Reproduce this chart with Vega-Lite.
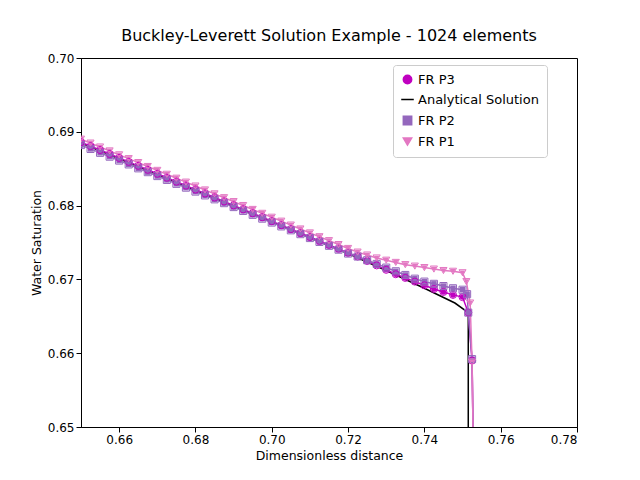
{
"$schema":"https://vega.github.io/schema/vega-lite/v6.json",
"width":496,"height":369,
"padding":{"left":30,"top":28,"right":64,"bottom":10},
"title":{"text":"Buckley-Leverett Solution Example - 1024 elements","fontSize":16,"font":"DejaVu Sans","fontWeight":"normal","offset":8},
"config":{"font":"DejaVu Sans","view":{"stroke":"black"},"axis":{"grid":false,"labelFontSize":12,"titleFontSize":12.5,"titleFontWeight":"normal","domainColor":"black","tickColor":"black","labelColor":"black"}},
"datasets":{
"fr":[
{"x":0.65,"FR P3":0.6886,"FR P2":0.6882,"FR P1":0.6890},
{"x":0.6525,"FR P3":0.68806,"FR P2":0.68768,"FR P1":0.68847},
{"x":0.655,"FR P3":0.68753,"FR P2":0.68715,"FR P1":0.68794},
{"x":0.6575,"FR P3":0.68699,"FR P2":0.68663,"FR P1":0.68741},
{"x":0.66,"FR P3":0.68646,"FR P2":0.6861,"FR P1":0.68688},
{"x":0.6625,"FR P3":0.68592,"FR P2":0.68558,"FR P1":0.68636},
{"x":0.665,"FR P3":0.68539,"FR P2":0.68505,"FR P1":0.68583},
{"x":0.6675,"FR P3":0.68485,"FR P2":0.68453,"FR P1":0.6853},
{"x":0.67,"FR P3":0.68431,"FR P2":0.684,"FR P1":0.68477},
{"x":0.6725,"FR P3":0.68378,"FR P2":0.68348,"FR P1":0.68424},
{"x":0.675,"FR P3":0.68324,"FR P2":0.68295,"FR P1":0.68371},
{"x":0.6775,"FR P3":0.68271,"FR P2":0.68243,"FR P1":0.68318},
{"x":0.68,"FR P3":0.68217,"FR P2":0.6819,"FR P1":0.68265},
{"x":0.6825,"FR P3":0.68164,"FR P2":0.68138,"FR P1":0.68212},
{"x":0.685,"FR P3":0.6811,"FR P2":0.68085,"FR P1":0.68159},
{"x":0.6875,"FR P3":0.68056,"FR P2":0.68033,"FR P1":0.68107},
{"x":0.69,"FR P3":0.68003,"FR P2":0.6798,"FR P1":0.68054},
{"x":0.6925,"FR P3":0.67949,"FR P2":0.67928,"FR P1":0.68001},
{"x":0.695,"FR P3":0.67896,"FR P2":0.67875,"FR P1":0.67948},
{"x":0.6975,"FR P3":0.67842,"FR P2":0.67823,"FR P1":0.67895},
{"x":0.70,"FR P3":0.67789,"FR P2":0.6777,"FR P1":0.67842},
{"x":0.7025,"FR P3":0.67735,"FR P2":0.67718,"FR P1":0.67789},
{"x":0.705,"FR P3":0.67681,"FR P2":0.67665,"FR P1":0.67736},
{"x":0.7075,"FR P3":0.67628,"FR P2":0.67613,"FR P1":0.67683},
{"x":0.71,"FR P3":0.67574,"FR P2":0.6756,"FR P1":0.6763},
{"x":0.7125,"FR P3":0.67521,"FR P2":0.67508,"FR P1":0.67578},
{"x":0.715,"FR P3":0.67467,"FR P2":0.67455,"FR P1":0.67525},
{"x":0.7175,"FR P3":0.67414,"FR P2":0.67403,"FR P1":0.67472},
{"x":0.72,"FR P3":0.6736,"FR P2":0.6735,"FR P1":0.67419},
{"x":0.7225,"FR P3":0.6731,"FR P2":0.6731,"FR P1":0.6737},
{"x":0.725,"FR P3":0.6725,"FR P2":0.6726,"FR P1":0.6733},
{"x":0.7275,"FR P3":0.6719,"FR P2":0.6721,"FR P1":0.6729},
{"x":0.73,"FR P3":0.6713,"FR P2":0.6716,"FR P1":0.6726},
{"x":0.7325,"FR P3":0.6707,"FR P2":0.6711,"FR P1":0.6723},
{"x":0.735,"FR P3":0.6702,"FR P2":0.6706,"FR P1":0.6720},
{"x":0.7375,"FR P3":0.6697,"FR P2":0.6701,"FR P1":0.6718},
{"x":0.74,"FR P3":0.6692,"FR P2":0.6697,"FR P1":0.6716},
{"x":0.7425,"FR P3":0.6687,"FR P2":0.6694,"FR P1":0.6714},
{"x":0.745,"FR P3":0.6683,"FR P2":0.6691,"FR P1":0.6712},
{"x":0.7475,"FR P3":0.6679,"FR P2":0.6688,"FR P1":0.6711},
{"x":0.75,"FR P3":0.6676,"FR P2":0.6686,"FR P1":0.6709},
{"x":0.751,"FR P1":0.6697},
{"x":0.7512,"FR P2":0.6680},
{"x":0.7515,"FR P3":0.6655,"FR P2":0.6655},
{"x":0.752,"FR P1":0.6668},
{"x":0.7525,"FR P3":0.659,"FR P2":0.6592,"FR P1":0.6588},
{"x":0.753,"FR P3":0.64,"FR P2":0.64,"FR P1":0.64}
],
"an":[
{"x":0.65,"y":0.6885,"series":"Analytical Solution"},
{"x":0.72,"y":0.6735,"series":"Analytical Solution"},
{"x":0.73,"y":0.6712,"series":"Analytical Solution"},
{"x":0.74,"y":0.6688,"series":"Analytical Solution"},
{"x":0.748,"y":0.6668,"series":"Analytical Solution"},
{"x":0.7515,"y":0.6655,"series":"Analytical Solution"},
{"x":0.7515,"y":0.64,"series":"Analytical Solution"}
]},
"encoding":{
"x":{"field":"x","type":"quantitative","scale":{"domain":[0.65,0.78]},"axis":{"values":[0.66,0.68,0.70,0.72,0.74,0.76,0.78],"format":".2f","title":"Dimensionless distance"}},
"y":{"field":"y","type":"quantitative","scale":{"domain":[0.65,0.70]},"axis":{"values":[0.65,0.66,0.67,0.68,0.69,0.70],"format":".2f","title":"Water Saturation"}},
"color":{"field":"series","type":"nominal","scale":{"domain":["FR P3","Analytical Solution","FR P2","FR P1"],"range":["#c000c0","black","#9467bd","#e377c2"]},
"legend":{"title":null,"orient":"none","legendX":312,"legendY":7,"labelFontSize":13,"strokeColor":"#ccc","padding":8,"rowPadding":6,"fillColor":"white","symbolSize":70,"cornerRadius":3,"symbolStrokeWidth":1.5,"symbolFillColor":"white"}},
"shape":{"field":"series","type":"nominal","scale":{"domain":["FR P3","Analytical Solution","FR P2","FR P1"],"range":["circle","M-1.5,0L1.5,0","square","triangle-down"]}}
},
"layer":[
{"data":{"name":"an"},"mark":{"type":"line","clip":true,"strokeWidth":1.5}},
{"data":{"name":"fr"},"transform":[{"fold":["FR P3","FR P2","FR P1"],"as":["series","y"]},{"filter":"isValid(datum.y)"}],
"layer":[
{"mark":{"type":"line","clip":true,"strokeWidth":1.5}},
{"mark":{"type":"point","clip":true,"filled":false,"fillOpacity":0,"size":50,"strokeWidth":1}}
]}
]
}
